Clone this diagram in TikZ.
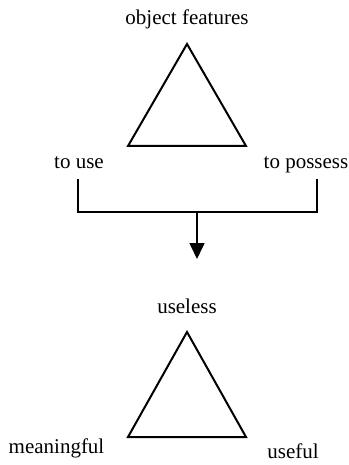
\documentclass[tikz,border=0pt]{standalone}
\usepackage{fontspec}
\setmainfont{Liberation Serif}
\usetikzlibrary{arrows.meta}
\begin{document}
\begin{tikzpicture}[x=1pt,y=-1pt,
  lbl/.style={inner sep=0pt,anchor=base,font=\fontsize{21}{25}\selectfont},
  tri/.style={line width=2pt,line join=miter},
  brk/.style={line width=1.6pt},
  arr/.style={line width=1.6pt,-{Triangle[width=15pt,length=16pt]}}]
\useasboundingbox (0,0) rectangle (348,465);
% top triangle
\coordinate (t1a) at (187,44);
\coordinate (t1l) at (128,146);
\coordinate (t1r) at (246,146);
\draw[tri] (t1a) -- (t1l) -- (t1r) -- cycle;
\node[lbl] (objf) at (187,25) {object features};
\node[lbl] (touse) at (79,168) {to use};
\node[lbl] (topos) at (306,168) {to possess};
% bracket
\coordinate (bl) at (78,179);
\coordinate (br) at (317,179);
\coordinate (bm) at (197,212);
\coordinate (tip) at (197,259);
\draw[brk] (bl) -- (78,212) -- (317,212) -- (br);
\draw[arr] (bm) -- (tip);
% bottom triangle
\coordinate (t2a) at (187,332);
\coordinate (t2l) at (128,437);
\coordinate (t2r) at (246,437);
\draw[tri] (t2a) -- (t2l) -- (t2r) -- cycle;
\node[lbl] (usel) at (187,313) {useless};
\node[lbl] (mean) at (56.5,453) {meaningful};
\node[lbl] (usef) at (293,458) {useful};
\end{tikzpicture}
\end{document}
